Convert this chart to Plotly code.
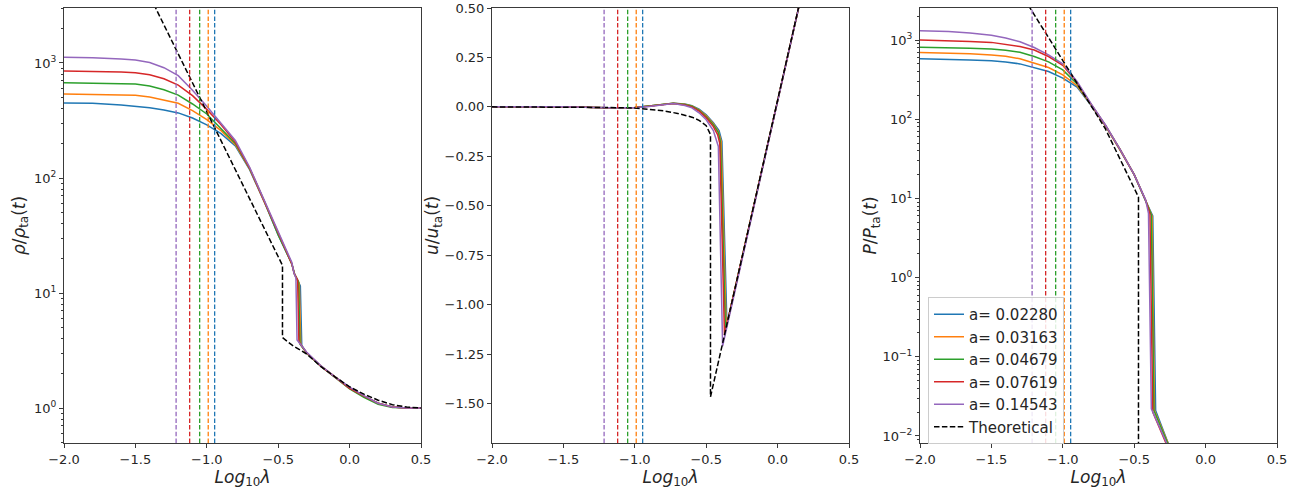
import plotly.graph_objects as go

# ---------------- data ----------------
COLORS = ["#1f77b4", "#ff7f0e", "#2ca02c", "#d62728", "#9467bd"]
A_LABELS = ["a= 0.02280", "a= 0.03163", "a= 0.04679", "a= 0.07619", "a= 0.14543"]
VLINE_X = [-0.945, -0.99, -1.05, -1.12, -1.215]

# density rho / rho_ta
RHO_X_PRE = [-2.0, -1.8, -1.6, -1.5, -1.4, -1.3, -1.2, -1.1, -1.0, -0.9, -0.8, -0.7, -0.6, -0.5, -0.405]
RHO_PRE = [
    [449, 446, 432, 423, 408, 390, 368, 332, 290, 243, 190, 118, 63, 32, 18],
    [537, 534, 528, 523, 505, 478, 446, 385, 322, 258, 195, 120, 63, 32, 18],
    [674, 670, 662, 655, 630, 585, 525, 440, 360, 270, 200, 121, 64, 32, 18],
    [852, 848, 835, 824, 790, 730, 643, 520, 395, 290, 205, 122, 64, 33, 18],
    [1120, 1112, 1085, 1060, 1010, 910, 775, 580, 420, 300, 212, 124, 65, 33, 18.5],
]
RHO_SHOCK_X = [[-0.385, -0.345, -0.335], [-0.385, -0.352, -0.342], [-0.386, -0.357, -0.348],
               [-0.388, -0.364, -0.355], [-0.39, -0.376, -0.368]]
RHO_SHOCK = [[14.5, 11.5, 3.5], [14.5, 12, 3.55], [14.7, 12.5, 3.6], [14.8, 13, 3.75], [15, 13.5, 3.9]]
RHO_X_POST = [-0.3, -0.2, -0.1, 0.0, 0.1, 0.2, 0.3, 0.4, 0.5]
RHO_POST = [
    [3.0, 2.3, 1.85, 1.5, 1.26, 1.1, 1.02, 1.0, 1.0],
    [3.0, 2.32, 1.86, 1.5, 1.27, 1.1, 1.02, 1.0, 1.0],
    [3.0, 2.3, 1.84, 1.47, 1.24, 1.08, 1.01, 1.0, 1.0],
    [3.02, 2.3, 1.83, 1.48, 1.27, 1.1, 1.02, 1.0, 1.0],
    [3.05, 2.33, 1.86, 1.52, 1.28, 1.1, 1.02, 1.0, 1.0],
]
RHO_TH_X = [-1.42, -1.2, -1.0, -0.8, -0.6, -0.47, -0.47, -0.4, -0.3, -0.2, -0.1, 0.0, 0.1, 0.2, 0.3, 0.4, 0.5]
RHO_TH = [4300, 1200, 377, 118, 37, 17.4, 4.1, 3.5, 2.95, 2.29, 1.86, 1.53, 1.32, 1.17, 1.07, 1.02, 1.0]

# velocity u / u_ta
U_X_PRE = [-2.0, -1.5, -1.2, -1.0, -0.9, -0.8, -0.73, -0.65, -0.6, -0.55, -0.5, -0.45]
U_PRE = [
    [0, 0, -0.004, -0.003, 0.004, 0.013, 0.018, 0.014, 0.006, -0.012, -0.04, -0.08],
    [0, 0, -0.004, -0.003, 0.004, 0.013, 0.018, 0.013, 0.004, -0.015, -0.045, -0.085],
    [0, 0, -0.004, -0.003, 0.004, 0.013, 0.018, 0.012, 0.003, -0.018, -0.05, -0.09],
    [0, 0, -0.004, -0.003, 0.003, 0.012, 0.017, 0.010, 0.0, -0.022, -0.055, -0.10],
    [0, 0, -0.004, -0.004, 0.002, 0.011, 0.017, 0.007, -0.005, -0.03, -0.065, -0.12],
]
U_SHOCK_X = [[-0.41, -0.39, -0.355], [-0.415, -0.395, -0.36], [-0.415, -0.40, -0.365],
             [-0.42, -0.405, -0.372], [-0.43, -0.415, -0.385]]
U_SHOCK = [[-0.12, -0.175, -1.10], [-0.125, -0.175, -1.116], [-0.13, -0.178, -1.132],
           [-0.14, -0.185, -1.154], [-0.16, -0.20, -1.21]]
U_X_POST = [0.0, 0.2]
U_POST = [0.03, 0.67]
U_TH_X = [-2.0, -1.5, -1.2, -1.0, -0.9, -0.8, -0.7, -0.6, -0.55, -0.5, -0.47, -0.47, 0.5]
U_TH = [0.0, 0.0, -0.003, -0.006, -0.012, -0.02, -0.033, -0.052, -0.068, -0.095, -0.14, -1.467, 1.63]

# pressure P / P_ta
P_X_PRE = [-2.0, -1.8, -1.65, -1.5, -1.4, -1.3, -1.2, -1.1, -1.0, -0.9, -0.8, -0.7, -0.6, -0.5, -0.42]
P_PRE = [
    [580, 575, 560, 549, 530, 500, 451, 400, 331, 255, 148, 82, 41, 20, 9.3],
    [698, 690, 670, 650, 625, 580, 512, 450, 363, 265, 150, 82, 41, 20, 9.4],
    [813, 805, 790, 770, 745, 700, 620, 530, 420, 278, 152, 83, 42, 20, 9.4],
    [1000, 985, 960, 935, 890, 830, 750, 620, 480, 290, 153, 83, 42, 20, 9.5],
    [1312, 1285, 1230, 1150, 1060, 950, 805, 650, 500, 300, 155, 84, 42, 20, 9.6],
]
P_SHOCK_X = [[-0.37, -0.35], [-0.375, -0.358], [-0.38, -0.362], [-0.39, -0.37], [-0.40, -0.38]]
P_SHOCK = [[6.0, 0.021], [6.0, 0.021], [6.2, 0.021], [6.4, 0.02], [6.5, 0.022]]
P_X_POST = [-0.27, -0.2]
P_POST = [[0.0088, 0.0045], [0.0085, 0.0043], [0.0083, 0.0042], [0.0078, 0.0038], [0.0082, 0.0041]]
P_TH_X = [-1.3, -1.229, -1.0, -0.8, -0.704, -0.6, -0.47, -0.47]
P_TH = [4070, 2540, 550, 145, 77, 31.6, 10.4, 1e-5]

X_TICKS = [-2.0, -1.5, -1.0, -0.5, 0.0, 0.5]
U_TICKS = [0.5, 0.25, 0.0, -0.25, -0.5, -0.75, -1.0, -1.25, -1.5]

# ---------------- figure ----------------
fig = go.Figure()
FONT = "DejaVu Sans"
AXC = "#3a3a3a"
TXT = "#262626"
TH_DASH = "5.5px,2.4px"
VL_DASH = "4.5px,2.2px"


def add_series(xs_list, ys_list, xaxis, yaxis, show):
    for i in range(5):
        fig.add_trace(go.Scatter(
            x=xs_list[i], y=ys_list[i], mode="lines", name=A_LABELS[i],
            line=dict(color=COLORS[i], width=1.5), xaxis=xaxis, yaxis=yaxis,
            showlegend=show, legendrank=i + 1))


add_series([RHO_X_PRE + RHO_SHOCK_X[i] + RHO_X_POST for i in range(5)],
           [RHO_PRE[i] + RHO_SHOCK[i] + RHO_POST[i] for i in range(5)], "x", "y", False)
fig.add_trace(go.Scatter(x=RHO_TH_X, y=RHO_TH, mode="lines", name="Theoretical",
                         line=dict(color="black", width=1.5, dash=TH_DASH),
                         xaxis="x", yaxis="y", showlegend=False))

add_series([U_X_PRE + U_SHOCK_X[i] + U_X_POST for i in range(5)],
           [U_PRE[i] + U_SHOCK[i] + U_POST for i in range(5)], "x2", "y2", False)
fig.add_trace(go.Scatter(x=U_TH_X, y=U_TH, mode="lines", name="Theoretical",
                         line=dict(color="black", width=1.5, dash=TH_DASH),
                         xaxis="x2", yaxis="y2", showlegend=False))

add_series([P_X_PRE + P_SHOCK_X[i] + P_X_POST for i in range(5)],
           [P_PRE[i] + P_SHOCK[i] + P_POST[i] for i in range(5)], "x3", "y3", True)
fig.add_trace(go.Scatter(x=P_TH_X, y=P_TH, mode="lines", name="Theoretical",
                         line=dict(color="black", width=1.5, dash=TH_DASH),
                         xaxis="x3", yaxis="y3", showlegend=True, legendrank=6))

# vertical dashed reference lines
for ax in ["", "2", "3"]:
    for i in range(5):
        fig.add_shape(type="line", xref="x" + ax, yref=("y" + ax) + " domain",
                      x0=VLINE_X[i], x1=VLINE_X[i], y0=0, y1=1,
                      line=dict(color=COLORS[i], width=1.3, dash=VL_DASH))

W = 1298.0
domains = [(64 / W, 421 / W), (492 / W, 849 / W), (920 / W, 1277 / W)]

xcommon = dict(range=[-2.0, 0.5], tickvals=X_TICKS, tickformat=".1f",
               ticks="outside", ticklen=4, tickcolor=AXC, showline=True, linecolor=AXC,
               linewidth=1, mirror=True, showgrid=False, zeroline=False,
               tickfont=dict(family=FONT, size=13, color=TXT),
               title=dict(text="<i>Log</i><sub>10</sub><i>λ</i>",
                          font=dict(family=FONT, size=17, color=TXT), standoff=1),
               automargin=False)

ycommon = dict(ticks="outside", ticklen=4, tickcolor=AXC, showline=True, linecolor=AXC,
               linewidth=1, mirror=True, showgrid=False, zeroline=False,
               tickfont=dict(family=FONT, size=13, color=TXT), automargin=False)

minor_log = []
for d in range(-3, 4):
    for m in range(2, 10):
        minor_log.append(m * 10.0 ** d)


def log_ticks(lo, hi):
    vals = [10.0 ** k for k in range(lo, hi + 1)]
    txt = ["10<sup>%s</sup>" % (str(k).replace("-", "−")) for k in range(lo, hi + 1)]
    return vals, txt


v1, t1 = log_ticks(0, 3)
v3, t3 = log_ticks(-2, 3)

fig.update_layout(
    width=1298, height=491,
    margin=dict(l=0, r=0, t=8, b=48),
    plot_bgcolor="white", paper_bgcolor="white",
    font=dict(family=FONT, color=TXT),
    xaxis=dict(xcommon, domain=domains[0], anchor="y"),
    xaxis2=dict(xcommon, domain=domains[1], anchor="y2"),
    xaxis3=dict(xcommon, domain=domains[2], anchor="y3"),
    yaxis=dict(ycommon, type="log", range=[-0.304, 3.478], anchor="x",
               tickvals=v1, ticktext=t1,
               minor=dict(ticks="outside", ticklen=2, tickcolor=AXC, tickvals=minor_log),
               title=dict(text="<i>ρ</i>/<i>ρ</i><sub>ta</sub>(<i>t</i>)",
                          font=dict(family=FONT, size=17, color=TXT), standoff=4)),
    yaxis2=dict(ycommon, range=[-1.70, 0.5], anchor="x2", tickvals=U_TICKS, tickformat=".2f",
                title=dict(text="<i>u</i>/<i>u</i><sub>ta</sub>(<i>t</i>)",
                           font=dict(family=FONT, size=17, color=TXT), standoff=0)),
    yaxis3=dict(ycommon, type="log", range=[-2.089, 3.405], anchor="x3",
                tickvals=v3, ticktext=t3,
                minor=dict(ticks="outside", ticklen=2, tickcolor=AXC, tickvals=minor_log),
                title=dict(text="<i>P</i>/<i>P</i><sub>ta</sub>(<i>t</i>)",
                           font=dict(family=FONT, size=17, color=TXT), standoff=1)),
    legend=dict(x=928 / W, y=(443 - 297) / 435.0, xanchor="left", yanchor="top",
                bgcolor="rgba(255,255,255,0.85)", bordercolor="#cccccc", borderwidth=1,
                font=dict(family=FONT, size=15, color=TXT),
                tracegroupgap=0, itemwidth=30),
    showlegend=True,
)

fig.write_html("out.html", config={"displayModeBar": False},
               post_script="document.body.style.margin='0';document.body.style.overflow='hidden';")
